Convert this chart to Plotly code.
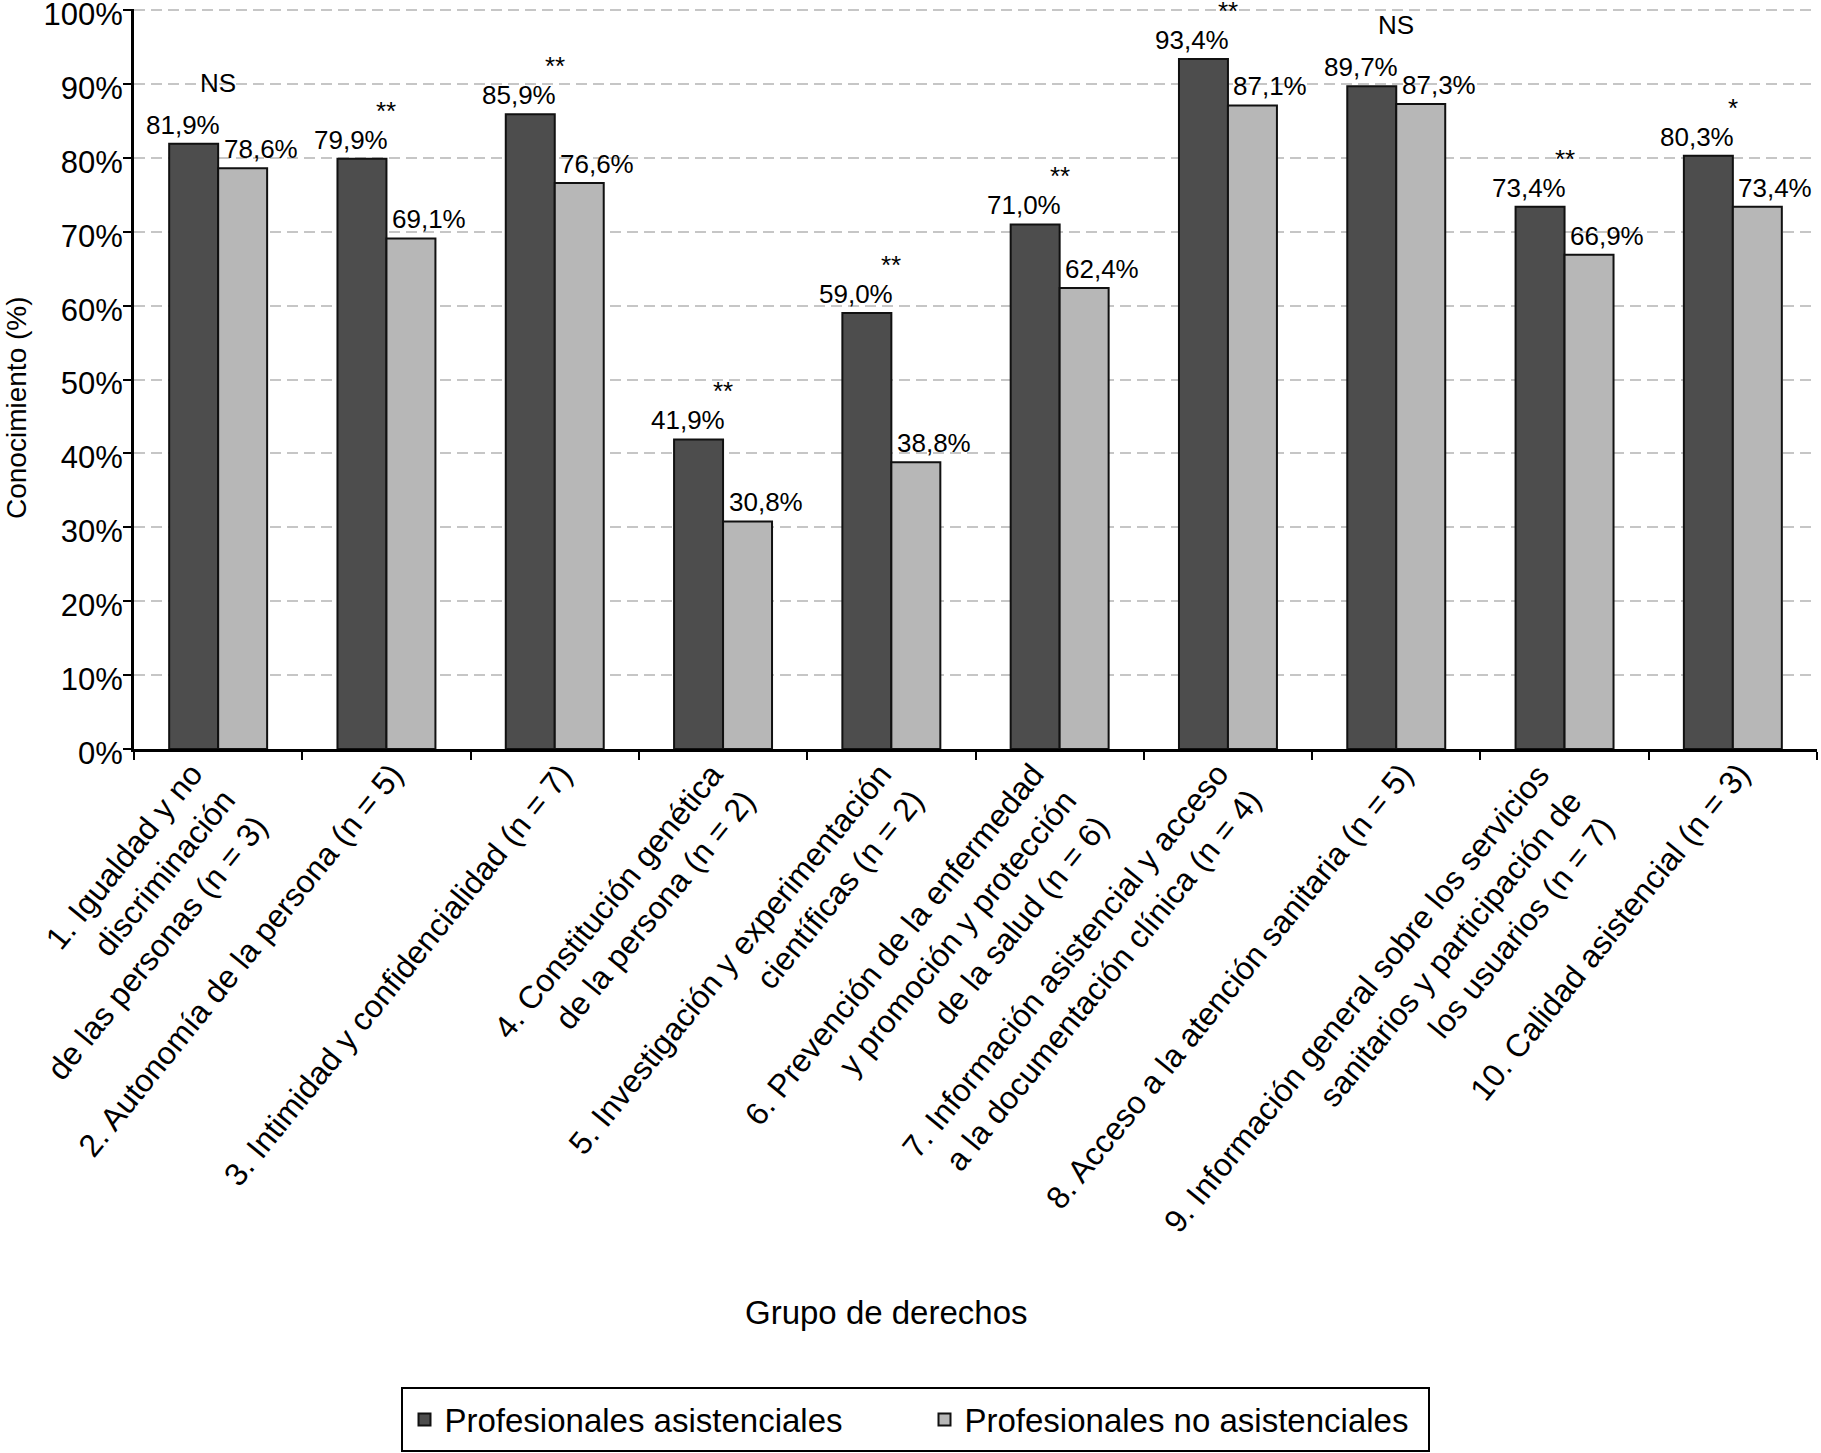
import math
import plotly.graph_objects as go

# ---------------- data ----------------
categorias = [
    "1. Igualdad y no<br>discriminación<br>de las personas (n = 3)",
    "2. Autonomía de la persona (n = 5)",
    "3. Intimidad y confidencialidad (n = 7)",
    "4. Constitución genética<br>de la persona (n = 2)",
    "5. Investigación y experimentación<br>científicas (n = 2)",
    "6. Prevención de la enfermedad<br>y promoción y protección<br>de la salud (n = 6)",
    "7. Información asistencial y acceso<br>a la documentación clínica (n = 4)",
    "8. Acceso a la atención sanitaria (n = 5)",
    "9. Información general sobre los servicios<br>sanitarios y participación de<br>los usuarios (n = 7)",
    "10. Calidad asistencial (n = 3)",
]
asistenciales = [81.9, 79.9, 85.9, 41.9, 59.0, 71.0, 93.4, 89.7, 73.4, 80.3]
no_asistenciales = [78.6, 69.1, 76.6, 30.8, 38.8, 62.4, 87.1, 87.3, 66.9, 73.4]
significacion = ["NS", "**", "**", "**", "**", "**", "**", "NS", "**", "*"]
serie_nombres = ["Profesionales asistenciales", "Profesionales no asistenciales"]
y_ticks = [0, 10, 20, 30, 40, 50, 60, 70, 80, 90, 100]
y_ticktext = [f"{v}%" for v in y_ticks]

# ---------------- style ----------------
FONT = "Liberation Sans, Arial, Helvetica, sans-serif"
DARK = "#4d4d4d"
LIGHT = "#b7b7b7"
W, H = 1821, 1453
ML, MR, MT, MB = 134, 4, 9, 704
PW, PH = W - ML - MR, H - MT - MB

def fmt(v):
    return f"{v:.1f}".replace(".", ",") + "%"

def px_x(px):   # pixel column -> paper x
    return (px - ML) / PW

def px_y(py):   # pixel row -> paper y
    return (H - MB - py) / PH

fig = go.Figure()
for name, vals, col in [(serie_nombres[0], asistenciales, DARK),
                        (serie_nombres[1], no_asistenciales, LIGHT)]:
    fig.add_trace(go.Bar(
        x=categorias, y=vals, name=name,
        marker=dict(color=col, line=dict(color="#111111", width=2)),
        hoverinfo="x+y",
    ))

ann = []
cat_w = PW / len(categorias)
bargap = 0.418
bar_w = cat_w * (1 - bargap) / 2
for c, v1, v2 in zip(categorias, asistenciales, no_asistenciales):
    ann.append(dict(x=c, y=v1, xref="x", yref="y", text=fmt(v1), showarrow=False,
                    xanchor="center", yanchor="bottom", xshift=-bar_w / 2 - 11, yshift=3,
                    font=dict(size=26, color="black", family=FONT), borderpad=0))
    ann.append(dict(x=c, y=v2, xref="x", yref="y", text=fmt(v2), showarrow=False,
                    xanchor="center", yanchor="bottom", xshift=bar_w / 2 + 18, yshift=3,
                    font=dict(size=26, color="black", family=FONT), borderpad=0))

# significance markers
for c, v1, v2, s in zip(categorias, asistenciales, no_asistenciales, significacion):
    ann.append(dict(x=c, y=max(v1, v2), xref="x", yref="y", text=s, showarrow=False,
                    xanchor="center", yanchor="bottom", yshift=45 if s == "NS" else 32,
                    font=dict(size=26, color="black", family=FONT), borderpad=0))

# rotated category labels (right aligned lines)
ang = 51
fs = 32
sa = math.sin(math.radians(ang))
for c in categorias:
    n = c.count("<br>") + 1
    hbox = 1.117 * fs + (n - 1) * 1.3 * fs
    ann.append(dict(x=c, y=0, xref="x", yref="paper", text=c, showarrow=False,
                    textangle=-ang, align="right", xanchor="right", yanchor="top",
                    xshift=10 + hbox * sa / 2, yshift=-8,
                    font=dict(size=fs, color="black", family=FONT),
                    borderpad=0, borderwidth=0))

# axis titles
ann.append(dict(x=px_x(886), y=px_y(1312), xref="paper", yref="paper", text="Grupo de derechos",
                showarrow=False, xanchor="center", yanchor="middle",
                font=dict(size=33, color="black", family=FONT)))
ann.append(dict(x=0, y=px_y(408), xref="paper", yref="paper", text="Conocimiento (%)",
                showarrow=False, xanchor="center", yanchor="middle", textangle=-90,
                xshift=17 - ML, font=dict(size=28, color="black", family=FONT)))

# legend frame
LX0, LX1, LY0, LY1 = 402, 1429, 1388, 1451
shapes = [dict(type="rect", xref="paper", yref="paper",
               x0=px_x(LX0), x1=px_x(LX1), y0=px_y(LY1), y1=px_y(LY0),
               line=dict(color="black", width=2), fillcolor="white", layer="below")]

fig.update_layout(
    width=W, height=H,
    margin=dict(l=ML, r=MR, t=MT, b=MB, pad=0, autoexpand=False),
    paper_bgcolor="white", plot_bgcolor="white",
    barmode="group", bargap=bargap, bargroupgap=0,
    font=dict(family=FONT, color="black", size=30),
    showlegend=True,
    legend=dict(orientation="h", x=px_x((LX0 + LX1) / 2 + 9), xanchor="center",
                y=px_y((LY0 + LY1) / 2), yanchor="middle",
                font=dict(size=33, color="black", family=FONT),
                borderwidth=0, bgcolor="rgba(0,0,0,0)",
                entrywidth=475, entrywidthmode="pixels", traceorder="normal"),
    annotations=ann,
    shapes=shapes,
)
fig.update_xaxes(
    type="category", range=[-0.5, len(categorias) - 0.5], autorange=False, automargin=False,
    showticklabels=False, showgrid=False,
    ticks="outside", tickson="boundaries", ticklen=8, tickwidth=2, tickcolor="black",
    showline=True, linecolor="black", linewidth=3, zeroline=False,
)
fig.update_yaxes(
    range=[0, 100.15], autorange=False, automargin=False,
    tickmode="array", tickvals=y_ticks, ticktext=y_ticktext,
    tickfont=dict(size=31, color="black", family=FONT), ticklabeloverflow="allow",
    ticklabelshift=4, ticklabelstandoff=-6,
    ticks="outside", ticklen=8, tickwidth=2, tickcolor="black",
    showline=True, linecolor="black", linewidth=3,
    showgrid=True, gridcolor="#c6c6c6", gridwidth=2, griddash="11px,6px",
    zeroline=False,
)

fig.write_html("out.html",
               config={"displayModeBar": False},
               post_script="document.body.style.margin='0px';document.body.style.padding='0px';")
